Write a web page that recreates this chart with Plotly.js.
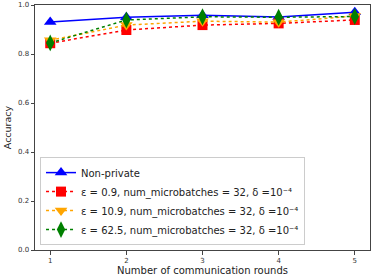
<!DOCTYPE html>
<html><head><meta charset="utf-8">
<script src="https://cdn.plot.ly/plotly-3.0.1.min.js"></script>
<style>html,body{margin:0;padding:0;background:#fff}#c{width:374px;height:280px}</style>
</head><body><div id="c"></div>
<script>
const rounds = [1, 2, 3, 4, 5];
const nonPrivate = [0.931, 0.950, 0.958, 0.951, 0.970];
const eps09 = [0.844, 0.898, 0.918, 0.925, 0.939];
const eps109 = [0.856, 0.918, 0.934, 0.930, 0.955];
const eps625 = [0.845, 0.939, 0.952, 0.950, 0.953];
const names = [
  "Non-private",
  "ε = 0.9, num_microbatches = 32, δ =10⁻⁴",
  "ε = 10.9, num_microbatches = 32, δ =10⁻⁴",
  "ε = 62.5, num_microbatches = 32, δ =10⁻⁴"
];
const yTicks = [0.0, 0.2, 0.4, 0.6, 0.8, 1.0];
const yTickText = ["0.0", "0.2", "0.4", "0.6", "0.8", "1.0"];

const traces = [
  {x: rounds, y: nonPrivate, name: names[0], mode: "lines+markers",
   line: {color: "#0000ff", width: 1.5, dash: "solid"},
   marker: {symbol: "triangle-up", size: 11, color: "#0000ff"}},
  {x: rounds, y: eps09, name: names[1], mode: "lines+markers",
   line: {color: "#ff0000", width: 1.5, dash: "dot"},
   marker: {symbol: "square", size: 10, color: "#ff0000"}},
  {x: rounds, y: eps109, name: names[2], mode: "lines+markers",
   line: {color: "#ffa500", width: 1.5, dash: "dot"},
   marker: {symbol: "triangle-down", size: 11, color: "#ffa500"}},
  {x: rounds, y: eps625, name: names[3], mode: "lines+markers",
   line: {color: "#008000", width: 1.5, dash: "dot"},
   marker: {symbol: "diamond-tall", size: 12, color: "#008000"}}
];

const layout = {
  width: 374, height: 280,
  margin: {l: 35, r: 4, t: 5, b: 30},
  paper_bgcolor: "#fff", plot_bgcolor: "#fff",
  font: {family: "DejaVu Sans, sans-serif", size: 7, color: "#333"},
  showlegend: true,
  xaxis: {
    range: [0.8, 5.2], tickvals: rounds, ticktext: rounds.map(String),
    showgrid: false, zeroline: false, showline: true, mirror: true,
    linecolor: "#444", linewidth: 1, ticks: "outside", ticklen: 3.5, tickcolor: "#444",
    tickfont: {size: 7, color: "#333"},
    title: {text: "Number of communication rounds", font: {size: 10, color: "#222"}, standoff: 1}
  },
  yaxis: {
    range: [0, 1], tickvals: yTicks, ticktext: yTickText,
    showgrid: false, zeroline: false, showline: true, mirror: true,
    linecolor: "#444", linewidth: 1, ticks: "outside", ticklen: 3.5, tickcolor: "#444",
    tickfont: {size: 7, color: "#333"},
    title: {text: "Accuracy", font: {size: 9.5, color: "#222"}, standoff: 4}
  },
  legend: {
    x: 0.015, y: 0.02, xanchor: "left", yanchor: "bottom",
    bgcolor: "rgba(255,255,255,0.8)", bordercolor: "#ccc", borderwidth: 1,
    font: {size: 10, color: "#222"}, tracegroupgap: 0, itemwidth: 30
  }
};
Plotly.newPlot("c", traces, layout, {displayModeBar: false, staticPlot: true});
</script></body></html>
